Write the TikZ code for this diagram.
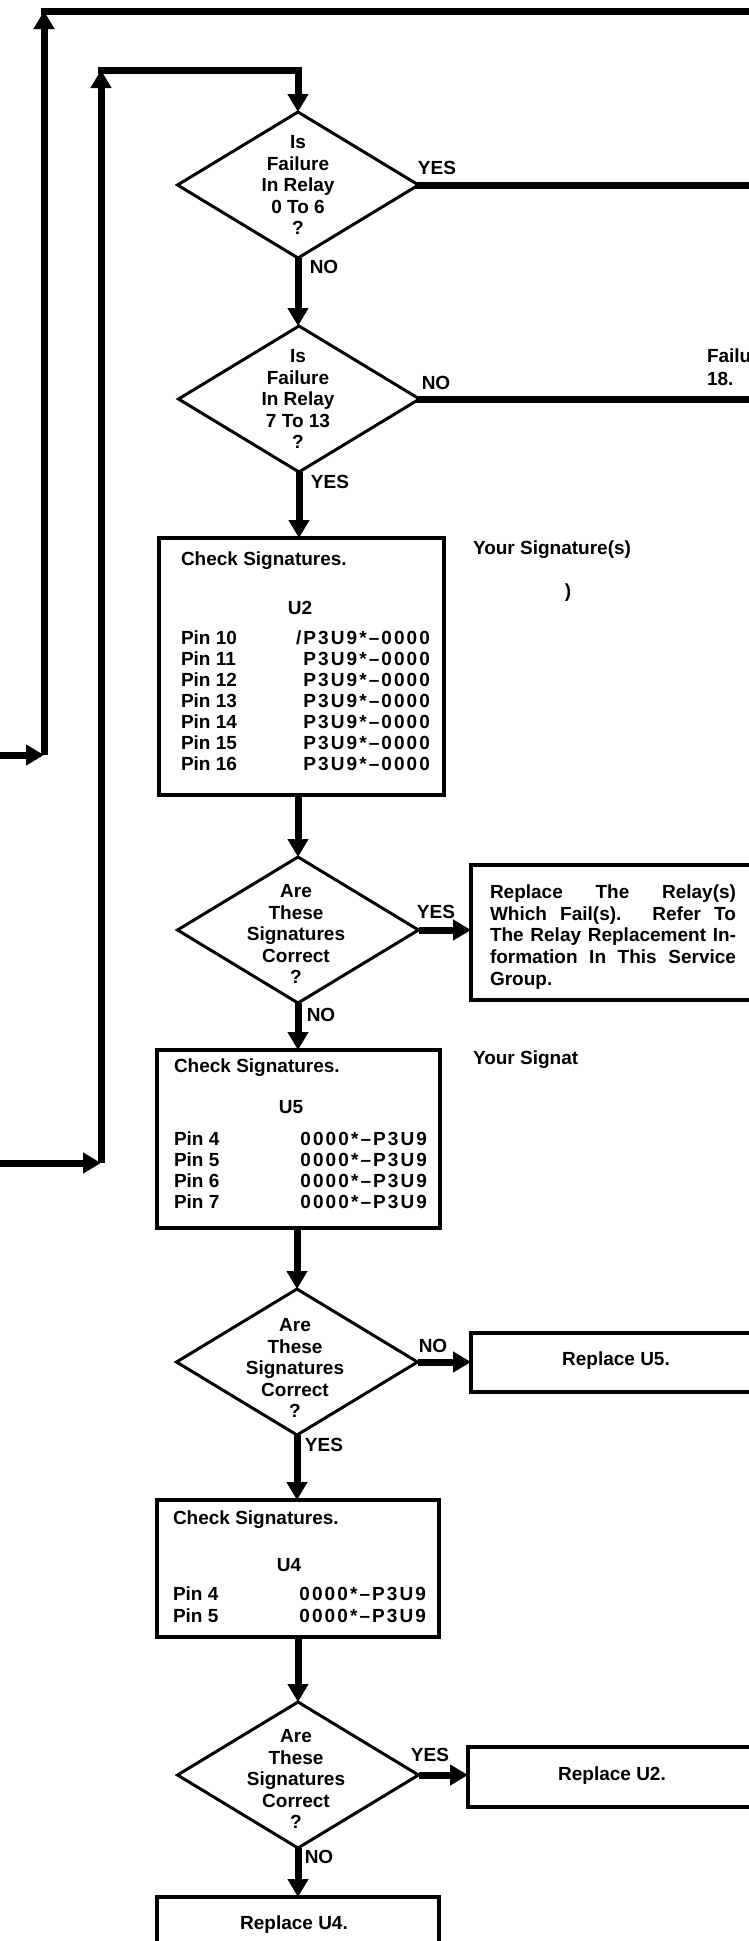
\documentclass[tikz,border=0pt]{standalone}
\usepackage{fontspec}
\setmainfont{Liberation Sans}
\newfontfamily\sigfont{Liberation Sans}[LetterSpace=11]
\usetikzlibrary{shapes.geometric,arrows.meta}
\begin{document}
\begin{tikzpicture}[x=1pt,y=-1pt,
  every node/.style={inner sep=0pt, outer sep=0pt},
  txt/.style={font=\bfseries\fontsize{19}{22}\selectfont},
  dtxt/.style={font=\bfseries\fontsize{19}{21.5}\selectfont, align=center},
  sig/.style={font=\sigfont\bfseries\fontsize{19}{22}\selectfont},
  dia/.style={draw, diamond, line width=3pt, minimum width=241pt, minimum height=146pt},
  box/.style={draw, rectangle, line width=3.5pt},
  wire/.style={line width=7pt, line cap=rect},
  tip/.style={-{Triangle[width=20pt,length=18pt]}},
  flow/.style={line width=7pt, tip},
]
\fill[white] (0,0) rectangle (749,1941);
\useasboundingbox (0,0) rectangle (749,1941);
\begin{scope}
\clip (0,0) rectangle (749,1941);
% coordinates
\coordinate (re) at (749,0);
\coordinate (la) at (0,755);
\coordinate (ca) at (44,755);
\coordinate (ta) at (44,11);
\coordinate (ra) at (749,11);
\coordinate (lb) at (0,1163);
\coordinate (cb) at (101,1163);
\coordinate (tb) at (101,70);
\coordinate (tc) at (298,70);

% diamonds
\node[dia] (d1) at (298,185) {};
\node[dia] (d2) at (299,399) {};
\node[dia] (d3) at (298,930) {};
\node[dia] (d4) at (297,1362) {};
\node[dia] (d5) at (298,1775) {};
\node[dtxt] (d1t) at (298,185) {Is\\Failure\\In Relay\\0 To 6\\?};
\node[dtxt] (d2t) at (298,399) {Is\\Failure\\In Relay\\7 To 13\\?};
\node[dtxt] (d3t) at (296,934) {Are\\These\\Signatures\\Correct\\?};
\node[dtxt] (d4t) at (295,1368) {Are\\These\\Signatures\\Correct\\?};
\node[dtxt] (d5t) at (296,1779) {Are\\These\\Signatures\\Correct\\?};

% boxes
\node[box, minimum width=285pt, minimum height=257pt] (b1) at (301.5,666.5) {};
\node[box, minimum width=283pt, minimum height=178pt] (b2) at (298.5,1139) {};
\node[box, minimum width=282pt, minimum height=137pt] (b3) at (298,1568.5) {};
\node[box, minimum width=282pt, minimum height=94pt] (b4) at (298,1944) {};
\node[box, minimum width=309pt, minimum height=135pt] (r1) at (625.5,932.5) {};
\node[box, minimum width=309pt, minimum height=59pt] (r2) at (625.5,1362.5) {};
\node[box, minimum width=312pt, minimum height=60pt] (r3) at (624,1777) {};

% box 1 text
\node[txt, anchor=mid west] (b1h) at (181,563) {Check Signatures.};
\node[txt] (b1u) at (300,608) {U2};
\foreach \i/\y/\p in {1/642/10,2/663/11,3/684/12,4/705/13,5/726/14,6/747/15,7/768/16}{
  \node[txt, anchor=mid west] (b1p\i) at (181,\y) {Pin \p};
}
\node[sig, anchor=mid east] (b1s1) at (430,642) {/P3U9*–0000};
\foreach \i/\y in {2/663,3/684,4/705,5/726,6/747,7/768}{
  \node[sig, anchor=mid east] (b1s\i) at (430,\y) {P3U9*–0000};
}
\node[txt, anchor=mid west] (ys1) at (473,552) {Your Signature(s)};
\node[txt] (ys1b) at (568,593) {)};

% box 2 text
\node[txt, anchor=mid west] (b2h) at (174,1070) {Check Signatures.};
\node[txt] (b2u) at (291,1107) {U5};
\foreach \i/\y/\p in {1/1143/4,2/1164/5,3/1185/6,4/1206/7}{
  \node[txt, anchor=mid west] (b2p\i) at (174,\y) {Pin \p};
  \node[sig, anchor=mid east] (b2s\i) at (427,\y) {0000*–P3U9};
}
\node[txt, anchor=mid west] (ys2) at (473,1062) {Your Signat};

% box 3 text
\node[txt, anchor=mid west] (b3h) at (173,1522) {Check Signatures.};
\node[txt] (b3u) at (289,1565) {U4};
\foreach \i/\y/\p in {1/1598/4,2/1620/5}{
  \node[txt, anchor=mid west] (b3p\i) at (173,\y) {Pin \p};
  \node[sig, anchor=mid east] (b3s\i) at (426,\y) {0000*–P3U9};
}

% box 4 and right boxes text
\node[txt] (b4t) at (294,1925) {Replace U4.};
\node[txt] (r2t) at (616,1361) {Replace U5.};
\node[txt] (r3t) at (612,1776) {Replace U2.};
\node[font=\bfseries\fontsize{19}{21.7}\selectfont, align=left] (r1t) at (613,937)
  {\makebox[246pt][s]{Replace The Relay(s)}\\
   \makebox[246pt][s]{Which Fail(s). Refer To}\\
   \makebox[246pt][s]{The Relay Replacement In-}\\
   \makebox[246pt][s]{formation In This Service}\\
   Group.};
\node[txt, anchor=mid west] (f1) at (707,360) {Failu};
\node[txt, anchor=mid west] (f2) at (707,383) {18.};

% labels
\node[txt] (l1) at (437,168) {YES};
\node[txt] (l2) at (324,267) {NO};
\node[txt] (l3) at (436,383) {NO};
\node[txt] (l4) at (330,482) {YES};
\node[txt] (l5) at (436,912) {YES};
\node[txt] (l6) at (321,1015) {NO};
\node[txt] (l7) at (433,1346) {NO};
\node[txt] (l8) at (324,1445) {YES};
\node[txt] (l9) at (430,1755) {YES};
\node[txt] (l10) at (319,1857) {NO};

% connectors
\draw[wire, line cap=butt, tip] (la) -- (ca);
\draw[flow] (ca) -- (ta);
\draw[wire] (ta) -- (ra);
\draw[wire, line cap=butt, tip] (lb) -- (cb);
\draw[flow] (cb) -- (tb);
\draw[wire] (tb) -- (tc);
\draw[flow] (tc) -- (d1.north);
\draw[wire] (d1.east) -- (d1.east -| re);
\draw[wire] (d2.east) -- (d2.east -| re);
\draw[flow] (d1.south) -- (d1.south |- d2.north);
\draw[flow] (d2.south) -- (d2.south |- b1.north);
\draw[flow] (d3.north |- b1.south) -- (d3.north);
\draw[flow] (d3.south) -- (d3.south |- b2.north);
\draw[flow] (d4.north |- b2.south) -- (d4.north);
\draw[flow] (d4.south) -- (d4.south |- b3.north);
\draw[flow] (d5.north |- b3.south) -- (d5.north);
\draw[flow] (d5.south) -- (d5.south |- b4.north);
\draw[flow] (d3.east) -- (d3.east -| r1.west);
\draw[flow] (d4.east) -- (d4.east -| r2.west);
\draw[flow] (d5.east) -- (d5.east -| r3.west);
\end{scope}
\end{tikzpicture}
\end{document}
